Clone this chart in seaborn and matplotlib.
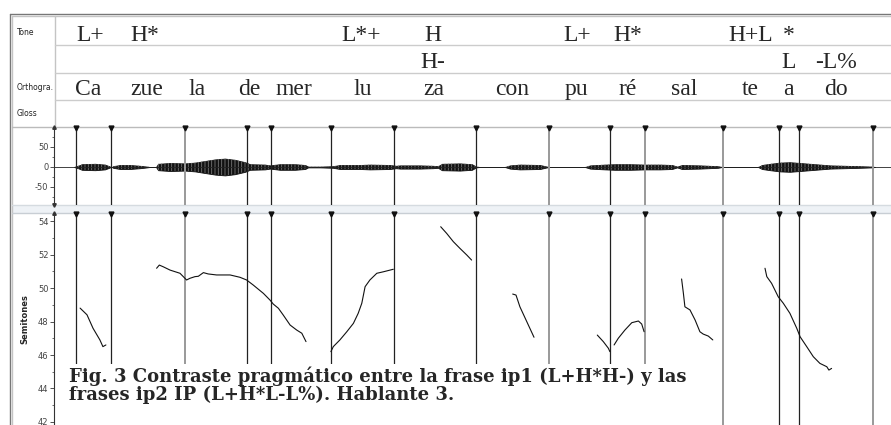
import numpy as np
import pandas as pd
import matplotlib
matplotlib.use("Agg")
import matplotlib.pyplot as plt
import seaborn as sns
from matplotlib.patches import Rectangle

# time of label centres (s)
tone_t = [0.112, 0.293, 1.013, 1.253, 1.733, 1.903, 2.313, 2.44]
tone_lab = ['L+', 'H*', 'L*+', 'H', 'L+', 'H*', 'H+L', '*']
phrase_t = [1.253, 2.437, 2.597]
phrase_lab = ['H-', 'L', '-L%']
ortho_t = [0.103, 0.3, 0.467, 0.64, 0.79, 1.02, 1.257, 1.517, 1.73, 1.903, 2.09, 2.31, 2.437, 2.597]
ortho_lab = ['Ca', 'zue', 'la', 'de', 'mer', 'lu', 'za', 'con', 'pu', 'ré', 'sal', 'te', 'a', 'do']

# boundaries (s)
bnd_black = [0.063, 0.18, 0.633, 0.713, 0.913, 1.123, 1.397, 1.843, 2.407, 2.473]
bnd_gray = [0.427, 1.64, 1.96, 2.22, 2.72]

# waveform envelope (s, amplitude)
wave_t = [0.057, 0.07, 0.083, 0.127, 0.16, 0.177, 0.183,
          0.187, 0.21, 0.243, 0.277, 0.3, 0.31,
          0.33, 0.337, 0.377, 0.427, 0.46, 0.493, 0.527, 0.56, 0.593, 0.627, 0.643, 0.693,
          0.71, 0.743, 0.793, 0.827, 0.837, 0.877, 0.92, 0.943, 1.01, 1.043, 1.11, 1.13, 1.143,
          1.21, 1.253, 1.27, 1.283, 1.343, 1.383, 1.397, 1.41,
          1.493, 1.51, 1.543, 1.61, 1.633, 1.643,
          1.76, 1.777, 1.827, 1.86, 1.91, 1.96, 2.01, 2.05, 2.067, 2.083, 2.143, 2.203, 2.217,
          2.337, 2.35, 2.377, 2.41, 2.443, 2.477, 2.527, 2.577, 2.627, 2.677, 2.717, 2.727]
wave_amp = [0, 3, 7, 8, 6, 1, 0,
            2, 5, 5, 3, 1, 0,
            0, 8, 10, 9, 11, 15, 19, 21, 18, 12, 7, 6,
            4, 7, 7, 5, 1, 1, 2, 5, 5, 6, 5, 3, 4,
            4, 3, 2, 8, 9, 7, 1, 0,
            0, 4, 6, 5, 1, 0,
            0, 4, 6, 7, 7, 6, 6, 5, 1, 5, 4, 2, 0,
            0, 5, 8, 11, 12, 10, 7, 4, 3, 2, 1, 0]

# pitch contour (s, semitones), NaN separates voiced stretches
f0_t = [0.077, 0.1, 0.12, 0.143, 0.153, 0.163, np.nan,
        0.332, 0.341, 0.354, 0.377, 0.41, 0.432, 0.443, 0.46, 0.471, 0.488, 0.504, 0.532, 0.577,
        0.61, 0.632, 0.654, 0.688, 0.71, 0.721, 0.738, 0.754, 0.777, 0.799, 0.816, 0.83, np.nan,
        0.913, 0.921, 0.943, 0.966, 0.988, 1.004, 1.016, 1.027, 1.043, 1.066, 1.088, 1.121, np.nan,
        1.279, 1.299, 1.321, 1.343, 1.366, 1.382, np.nan,
        1.519, 1.53, 1.543, 1.566, 1.59, np.nan,
        1.801, 1.821, 1.838, 1.843, np.nan,
        1.857, 1.871, 1.893, 1.916, 1.938, 1.949, 1.957, np.nan,
        2.082, 2.088, 2.093, 2.11, 2.127, 2.143, 2.154, 2.171, 2.186, np.nan,
        2.36, 2.366, 2.382, 2.404, 2.421, 2.443, 2.466, 2.477, 2.499, 2.521, 2.543, 2.566, 2.573, 2.582]
f0_st = [48.8, 48.4, 47.6, 46.9, 46.5, 46.6, np.nan,
         51.18, 51.37, 51.27, 51.07, 50.88, 50.48, 50.58, 50.68, 50.7, 50.92, 50.84, 50.78, 50.78,
         50.64, 50.48, 50.18, 49.68, 49.28, 49.04, 48.79, 48.39, 47.79, 47.49, 47.3, 46.8, np.nan,
         46.2, 46.5, 46.9, 47.39, 47.89, 48.49, 49.09, 50.08, 50.48, 50.88, 50.97, 51.12, np.nan,
         53.66, 53.26, 52.77, 52.37, 51.97, 51.67, np.nan,
         49.64, 49.58, 48.88, 47.99, 47.06, np.nan,
         47.19, 46.8, 46.4, 46.2, np.nan,
         46.6, 47.0, 47.49, 47.93, 48.03, 47.85, 47.39, np.nan,
         50.54, 49.68, 48.88, 48.69, 48.09, 47.39, 47.25, 47.13, 46.9, np.nan,
         51.18, 50.68, 50.28, 49.48, 49.09, 48.49, 47.59, 47.09, 46.5, 45.9, 45.5, 45.3, 45.1, 45.2]

caption = ["Fig. 3 Contraste pragmático entre la frase ip1 (L+H*H-) y las",
           "frases ip2 IP (L+H*L-L%). Hablante 3."]

sns.set_theme(style="white")
plt.rcParams['font.family'] = ['DejaVu Sans']
plt.rcParams['axes.unicode_minus'] = False
plt.rcParams['hatch.linewidth'] = 0.6

W, H = 891, 425
XL = (-0.01, 2.78)


def px_rect(l, t, r, b):
    return [l / W, 1 - b / H, (r - l) / W, (b - t) / H]


fig = plt.figure(figsize=(W / 100, H / 100), dpi=100)

# window frame
bg = fig.add_axes([0, 0, 1, 1], zorder=-1)
bg.set_xlim(0, W)
bg.set_ylim(H, 0)
bg.axis('off')
bg.add_patch(Rectangle((12, 205), W, 8, fc='#eef2f6', ec='none'))
bg.plot([10, W], [14, 14], color='#777', lw=1)
bg.plot([12, W], [16, 16], color='#c4c4c4', lw=1)
bg.plot([10, 10], [14, H], color='#777', lw=1)
bg.plot([12, 12], [16, H], color='#c4c4c4', lw=1)
bg.plot([55, 55], [16, 127], color='#c4c4c4', lw=1)
for y in [45, 73, 100]:
    bg.plot([55, W], [y, y], color='#cccccc', lw=1)
bg.plot([12, W], [127, 127], color='#bbbbbb', lw=1)
bg.plot([12, W], [205, 205], color='#d5dbe0', lw=1)
bg.plot([12, W], [213, 213], color='#c8ced4', lw=1)
for lab, y in [('Tone', 32), ('Orthogra.', 87), ('Gloss', 113)]:
    bg.text(17, y, lab, fontsize=5.5, va='center', ha='left', color='#222')

# text tiers
tier = fig.add_axes(px_rect(54, 16, W, 127))
tier.set_xlim(XL)
tier.set_ylim(127, 16)
tier.axis('off')
serif = ['Liberation Serif', 'DejaVu Serif']
for t, s in zip(tone_t, tone_lab):
    tier.text(t, 41, s, fontsize=17, family=serif, ha='center', va='baseline')
for t, s in zip(phrase_t, phrase_lab):
    tier.text(t, 68, s, fontsize=17, family=serif, ha='center', va='baseline')
for t, s in zip(ortho_t, ortho_lab):
    tier.text(t, 95, s, fontsize=17, family=serif, ha='center', va='baseline')

bnd_all = sorted(bnd_black + bnd_gray)


def style_axis(ax):
    ax.set_facecolor('none')
    for side in ['top', 'right', 'bottom']:
        ax.spines[side].set_visible(False)
    ax.spines['left'].set_color('#333')
    ax.spines['left'].set_linewidth(0.8)
    ax.set_xticks([])
    ax.tick_params(axis='y', which='major', left=True, length=3, width=0.6,
                   labelsize=6, labelcolor='#444', color='#333', pad=1)
    ax.tick_params(axis='y', which='minor', left=True, length=1.8, width=0.5, color='#333')
    ax.plot([0], [1], marker='^', ms=2.5, color='#333', transform=ax.transAxes, clip_on=False)


# waveform
wave = fig.add_axes(px_rect(54, 127, W, 205))
wave.set_xlim(XL)
wave.set_ylim(-95, 100)
style_axis(wave)
wave.set_yticks([-50, 0, 50])
wave.set_yticks([-75, -25, 25, 75], minor=True)
wave.plot([0], [0], marker='v', ms=2.5, color='#333', transform=wave.transAxes, clip_on=False)
wave.axhline(0, color='#222', lw=0.6)
amp = np.array(wave_amp, dtype=float)
wave.fill_between(wave_t, -amp, amp, facecolor='#111', edgecolor='#111', lw=0.6)
wave.fill_between(wave_t, -amp, amp, facecolor='none', edgecolor='#777', hatch='|||||', lw=0)
wave.vlines(bnd_black, -95, 100, color='#222', lw=0.9)
wave.vlines(bnd_gray, -95, 100, color='#999', lw=1.4)
wave.plot(bnd_all, [98] * len(bnd_all), marker='v', ls='none', ms=3.5, color='#111', clip_on=False)

# pitch
pitch = fig.add_axes(px_rect(54, 213, W, H))
pitch.set_xlim(XL)
pitch.set_ylim(41.82, 54.48)
style_axis(pitch)
pitch.set_yticks(range(42, 55, 2))
pitch.set_yticks(range(43, 55, 2), minor=True)
pitch.vlines(bnd_black, 41.82, 54.48, color='#222', lw=0.9)
pitch.vlines(bnd_gray, 41.82, 54.48, color='#999', lw=1.4)
pitch.plot(bnd_all, [54.4] * len(bnd_all), marker='v', ls='none', ms=3.5, color='#111', clip_on=False)

df = pd.DataFrame({'t': f0_t, 'st': f0_st})
df['seg'] = df['st'].isna().cumsum()
df = df.dropna()
sns.lineplot(data=df, x='t', y='st', units='seg', estimator=None, color='#111',
             lw=0.8, ax=pitch, legend=False)
pitch.set_xlabel('')
pitch.set_ylabel('Semitones', fontsize=6, fontweight='bold', labelpad=6)
pitch.set_xlim(XL)

pitch.add_patch(Rectangle(((62 - 54) / 837, 0), (716 - 62) / 837, (425 - 364) / 212,
                          transform=pitch.transAxes, fc='white', ec='none', zorder=5))

cap_font = ['DejaVu Serif']
fig.text(69 / W, 1 - 382 / H, caption[0], fontsize=13, fontweight='bold', family=cap_font,
         va='baseline', ha='left')
fig.text(69 / W, 1 - 400 / H, caption[1], fontsize=13, fontweight='bold', family=cap_font,
         va='baseline', ha='left')

fig.savefig('out.png', dpi=100)
